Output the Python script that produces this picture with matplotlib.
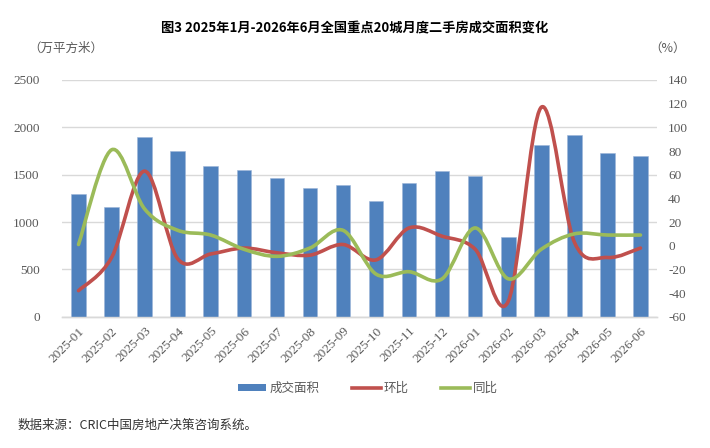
import numpy as np
import matplotlib as mpl

mpl.use('Agg')

import matplotlib.pyplot as plt
from matplotlib.path import Path
from matplotlib.patches import PathPatch, Patch
from matplotlib.lines import Line2D

plt.rcParams['font.family'] = ['Noto Sans CJK SC', 'DejaVu Sans']
plt.rcParams['axes.unicode_minus'] = False

# ================================
# 数据
# ================================
months = [
    "2025-01", "2025-02", "2025-03", "2025-04", "2025-05", "2025-06",
    "2025-07", "2025-08", "2025-09", "2025-10", "2025-11", "2025-12",
    "2026-01", "2026-02", "2026-03", "2026-04", "2026-05", "2026-06",
]
area = [1300, 1160, 1900, 1750, 1590, 1550, 1470, 1360, 1390,
        1220, 1410, 1540, 1490, 840, 1810, 1920, 1730, 1700]
mom = [-38, -10, 63, -11, -7, -2, -6, -8, 1,
       -12, 15, 8, -3, -47, 117, 3, -10, -2]
yoy = [1, 81, 31, 13, 9, -3, -9, -2, 13,
       -24, -22, -28, 15, -28, -3, 10, 9, 9]

left_ticks = [0, 500, 1000, 1500, 2000, 2500]
right_ticks = [-60, -40, -20, 0, 20, 40, 60, 80, 100, 120, 140]

C_BAR = "#4F81BD"
C_RED = "#C0504D"
C_GREEN = "#9BBB59"
C_TXT = "#595959"
C_GRID = "#D9D9D9"

font_num = dict(family="Liberation Serif", size=9.5, color=C_TXT)


def smooth_path(xs, ys):
    """Excel 风格平滑线：分段三次贝塞尔"""
    xs = np.asarray(xs, float)
    ys = np.asarray(ys, float)
    n = len(xs)
    verts = [(xs[0], ys[0])]
    codes = [Path.MOVETO]
    for i in range(n - 1):
        i0 = max(i - 1, 0)
        i3 = min(i + 2, n - 1)
        c1 = (xs[i] + (xs[i + 1] - xs[i0]) / 6, ys[i] + (ys[i + 1] - ys[i0]) / 6)
        c2 = (xs[i + 1] - (xs[i3] - xs[i]) / 6, ys[i + 1] - (ys[i3] - ys[i]) / 6)
        verts += [c1, c2, (xs[i + 1], ys[i + 1])]
        codes += [Path.CURVE4] * 3
    return Path(verts, codes)


fig = plt.figure(figsize=(7.1, 4.48), dpi=100)
ax = fig.add_axes([62 / 710, 1 - 316.7 / 448, (657 - 62) / 710, (316.7 - 80) / 448])
ax2 = ax.twinx()

x = np.arange(len(months))
ax.bar(x, area, width=0.44, color=C_BAR, edgecolor="#9DB6D8", linewidth=0.4, zorder=3)

ax.set_xlim(-0.5, len(months) - 0.5)
ax.set_ylim(0, 2500)
ax.set_yticks(left_ticks)
ax.set_yticklabels([str(v) for v in left_ticks], **font_num)
ax.yaxis.grid(True, color=C_GRID, linewidth=1.0, zorder=0)
ax.set_axisbelow(True)

ax.set_xticks(x)
ax.set_xticklabels(months, rotation=45, ha="right", rotation_mode="anchor", **font_num)
ax.tick_params(axis="x", length=0, pad=6)
ax.tick_params(axis="y", length=0, pad=16)

ax2.set_ylim(-60, 140)
ax2.set_yticks(right_ticks)
ax2.set_yticklabels([str(v) for v in right_ticks], **font_num)
ax2.tick_params(axis="y", length=0, pad=8)

for a in (ax, ax2):
    for s in ("top", "left", "right"):
        a.spines[s].set_visible(False)
    a.spines["bottom"].set_color(C_GRID)
    a.spines["bottom"].set_linewidth(1.0)

for ys, col in ((mom, C_RED), (yoy, C_GREEN)):
    ax2.add_patch(PathPatch(smooth_path(x, ys), facecolor="none", edgecolor=col,
                            linewidth=2.6, capstyle="round", joinstyle="round", zorder=5))

# 标题与单位
fig.text(0.5, 1 - 28 / 448, "图3 2025年1月-2026年6月全国重点20城月度二手房成交面积变化",
         ha="center", va="center", fontsize=9.5, fontweight="bold", color="black")
fig.text(28 / 710, 1 - 48 / 448, "（万平方米）", ha="left", va="center", fontsize=9, color=C_TXT)
fig.text(686 / 710, 1 - 48 / 448, "（%）", ha="right", va="center", fontsize=9, color=C_TXT)

# 图例
handles = [
    Patch(facecolor=C_BAR, edgecolor="none"),
    Line2D([], [], color=C_RED, linewidth=2.6),
    Line2D([], [], color=C_GREEN, linewidth=2.6),
]
fig.legend(handles, ["成交面积", "环比", "同比"], loc="center",
           bbox_to_anchor=(368 / 710, 1 - 388 / 448), ncol=3, frameon=False,
           fontsize=9, labelcolor=C_TXT, handlelength=2.3, handleheight=0.5,
           handletextpad=0.25, columnspacing=2.6)

fig.text(18 / 710, 1 - 425 / 448, "数据来源：CRIC中国房地产决策咨询系统。",
         ha="left", va="center", fontsize=9, color="#333333")

fig.savefig("out.png", dpi=100)
